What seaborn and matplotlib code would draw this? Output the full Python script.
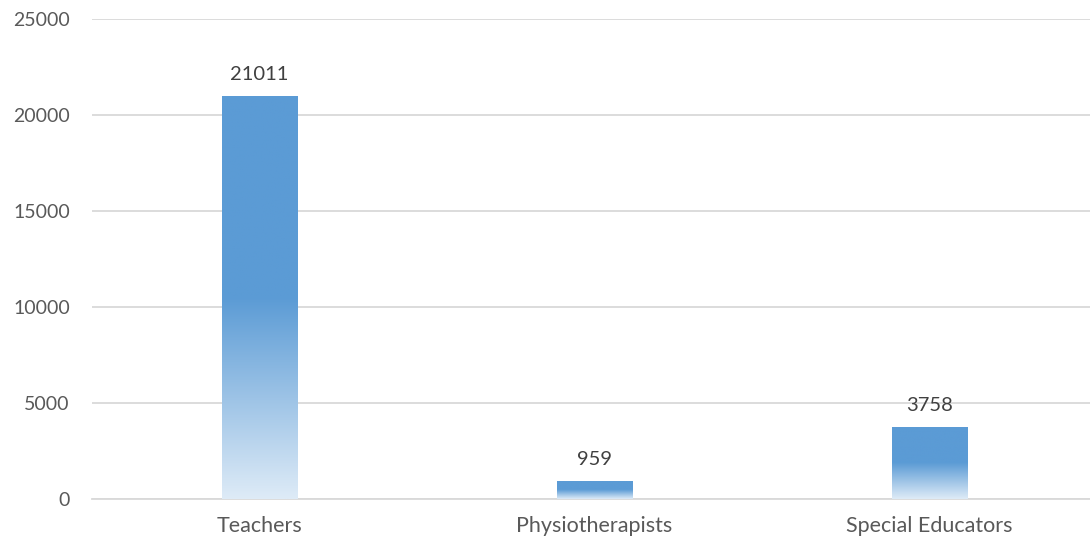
import numpy as np
import pandas as pd
import seaborn as sns
import matplotlib
matplotlib.use("Agg")
import matplotlib.pyplot as plt
from matplotlib.colors import LinearSegmentedColormap

categories = ["Teachers", "Physiotherapists", "Special Educators"]
values = [21011, 959, 3758]
yticks = [0, 5000, 10000, 15000, 20000, 25000]

sns.set_theme(style="white")
plt.rcParams["font.family"] = ["Lato", "DejaVu Sans"]

df = pd.DataFrame({"category": categories, "value": values})

fig = plt.figure(figsize=(10.9, 5.42), dpi=100)
ax = fig.add_axes([92 / 1090, 1 - 499 / 542, 1 - 92 / 1090, (499 - 19) / 542])

sns.barplot(data=df, x="category", y="value", color="#5B9BD5", width=0.225,
            saturation=1, ax=ax, zorder=3)

ax.set_xlabel("")
ax.set_ylabel("")
ax.set_yticks(yticks)
ax.set_yticklabels([str(t) for t in yticks])

ax.yaxis.grid(True, color="#D9D9D9", linewidth=1.3, zorder=0)
ax.xaxis.grid(False)
for s in ["left", "right", "top"]:
    ax.spines[s].set_visible(False)
ax.spines["bottom"].set_color("#D9D9D9")
ax.spines["bottom"].set_linewidth(1.3)
ax.tick_params(axis="y", length=0, pad=16, labelsize=14, labelcolor="#595959")
ax.tick_params(axis="x", length=0, pad=12, labelsize=15.5, labelcolor="#595959")

# gradient fill: light at the bottom, solid blue from mid-bar upwards
cmap = LinearSegmentedColormap.from_list(
    "grad", [(0, "#DEEBF7"), (0.5, "#5B9BD5"), (1, "#5B9BD5")])
grad = np.linspace(0, 1, 256).reshape(-1, 1)
for patch in ax.patches:
    x0, y0 = patch.get_x(), patch.get_y()
    w, h = patch.get_width(), patch.get_height()
    im = ax.imshow(grad, cmap=cmap, aspect="auto", origin="lower",
                   extent=[x0, x0 + w, y0, y0 + h], zorder=3)
    im.set_clip_path(patch)
    patch.set_facecolor("none")
    patch.set_edgecolor("none")

ax.set_xlim(-0.5, 2.479)
ax.set_ylim(0, 25000)

ax.bar_label(ax.containers[0], labels=[str(v) for v in values], padding=9,
             fontsize=14.5, color="#404040")

fig.savefig("out.png", dpi=100)
